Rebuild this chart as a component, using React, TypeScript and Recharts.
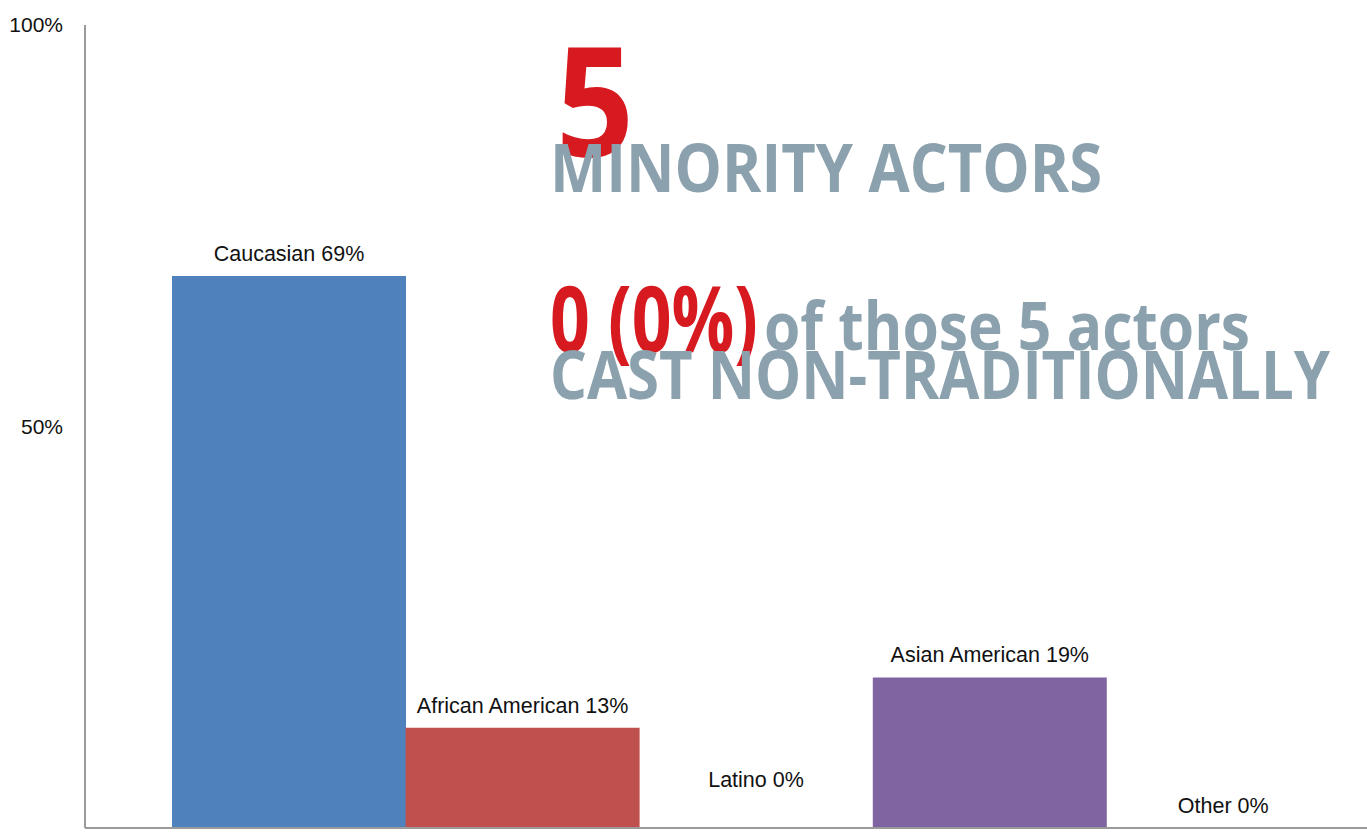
import { BarChart, Bar, XAxis, YAxis, LabelList, Cell } from "recharts";

const groups = ["Caucasian", "African American", "Latino", "Asian American", "Other"];
// share of 16 actors, in percent
const shares = [68.75, 12.5, 0, 18.75, 0];
const yTicks = [0, 50, 100];

const colors = ["#4F81BD", "#C0504D", "#9BBB59", "#8064A2", "#4BACC6"];
// extra lift of a label above its bar, as placed by hand in the original
const labelLift = [0, 0, 26, 0, 0];

const RED = "#D71920";
const SLATE = "#8BA1AE";
const LABEL_FONT = "Liberation Sans, Arial, sans-serif";

const data = groups.map((g, i) => ({ name: g, share: shares[i] }));

const labelText = (i: number) => `${groups[i]} ${Math.round(shares[i])}%`;

// labels of bars with height (zero bars get theirs from the axis tick below)
function BarLabel(props: any) {
  const { x, y, width, value } = props;
  const i = groups.indexOf(value);
  if (i < 0 || !shares[i]) return null;
  return (
    <text
      x={Number(x) + Number(width) / 2}
      y={Number(y) - 15 - labelLift[i]}
      textAnchor="middle"
      fontSize={21.5}
      fontFamily={LABEL_FONT}
      fill="#111"
    >
      {labelText(i)}
    </text>
  );
}

function ZeroTick(props: any) {
  const { x, y, payload } = props;
  const i = groups.indexOf(payload.value);
  if (i < 0 || shares[i]) return null;
  return (
    <text
      x={x}
      y={Number(y) - 15 - labelLift[i]}
      textAnchor="middle"
      fontSize={21.5}
      fontFamily={LABEL_FONT}
      fill="#111"
    >
      {labelText(i)}
    </text>
  );
}

function Headline() {
  const font = "'Open Sans', 'Noto Sans', sans-serif";
  return (
    <svg
      width={1367}
      height={835}
      style={{ position: "absolute", left: 0, top: 0, pointerEvents: "none" }}
    >
      <text x={556} y={157} fontFamily={font} fontWeight={700} fontSize={152} fill={RED} textLength={78} lengthAdjust="spacingAndGlyphs">
        5
      </text>
      <text x={550} y={192} fontFamily={font} fontWeight={700} fontSize={66} fill={SLATE} textLength={552} lengthAdjust="spacingAndGlyphs">
        MINORITY ACTORS
      </text>
      <text x={550} y={352} fontFamily={font} fontWeight={700} fontSize={91} fill={RED} textLength={208} lengthAdjust="spacingAndGlyphs">
        0 (0%)
      </text>
      <text x={764} y={350} fontFamily={font} fontWeight={700} fontSize={66} fill={SLATE} textLength={486} lengthAdjust="spacingAndGlyphs">
        of those 5 actors
      </text>
      <text x={550} y={399} fontFamily={font} fontWeight={700} fontSize={66} fill={SLATE} textLength={780} lengthAdjust="spacingAndGlyphs">
        CAST NON-TRADITIONALLY
      </text>
    </svg>
  );
}

export default function App() {
  return (
    <div style={{ position: "absolute", left: 0, top: 0, width: 1367, height: 835, background: "#fff" }}>
      <BarChart
        width={1367}
        height={835}
        data={data}
        margin={{ top: 25, right: 0, bottom: 0, left: 0 }}
        barGap={0}
        barCategoryGap={0}
      >
        <XAxis
          dataKey="name"
          height={7}
          tick={<ZeroTick />}
          tickLine={false}
          tickSize={0}
          tickMargin={0}
          interval={0}
          axisLine={{ stroke: "#9A9A9A", strokeWidth: 2 }}
          padding={{ left: 87, right: 27 }}
        />
        <YAxis
          width={85}
          domain={[0, 100]}
          ticks={yTicks}
          tickFormatter={(v) => `${v}%`}
          tickLine={false}
          tickSize={0}
          tickMargin={22}
          axisLine={{ stroke: "#9A9A9A", strokeWidth: 2 }}
          tick={{ fontSize: 21, fill: "#111", fontFamily: LABEL_FONT }}
        />
        <Bar dataKey="share" isAnimationActive={false}>
          {data.map((d, i) => (
            <Cell key={d.name} fill={colors[i]} />
          ))}
          <LabelList dataKey="name" content={<BarLabel />} />
        </Bar>
      </BarChart>
      <Headline />
    </div>
  );
}
